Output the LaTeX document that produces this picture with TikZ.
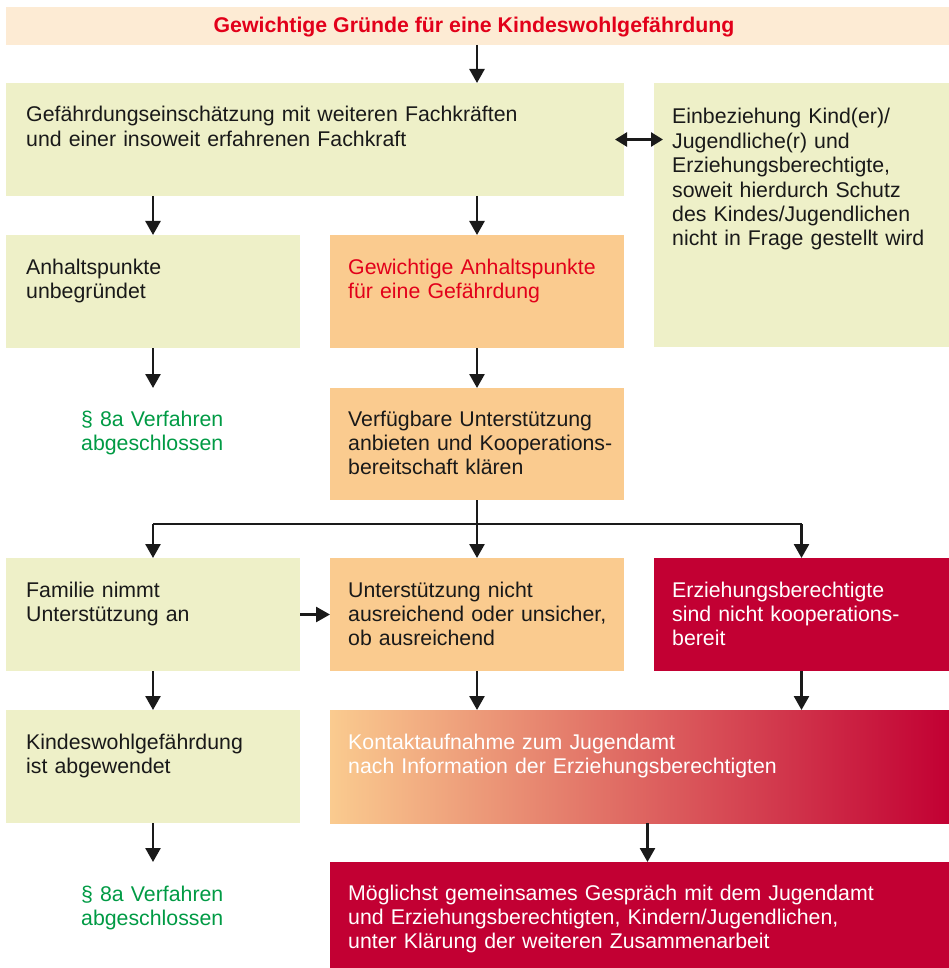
\documentclass[tikz,border=0pt]{standalone}
\usepackage{fontspec}
\setmainfont{Liberation Sans}
\usepackage{tikz}
\usetikzlibrary{calc,positioning,arrows.meta}
\definecolor{kwgreen}{HTML}{EEF0C8}
\definecolor{kworange}{HTML}{FACB8F}
\definecolor{kwmid}{HTML}{E38F6C}
\definecolor{kwcrimson}{HTML}{C20033}
\definecolor{kwpeach}{HTML}{FDEBD4}
\definecolor{kwred}{HTML}{E2001A}
\definecolor{kwtextgreen}{HTML}{009A44}
\definecolor{kwarrow}{HTML}{1A1A1A}

\begin{document}
\begin{tikzpicture}[
  x=1pt,y=-1pt,
  every node/.style={font=\fontsize{21.3}{24.4}\selectfont},
  box/.style={anchor=north west,inner sep=0pt,outer sep=0pt},
  greenbox/.style={box,fill=kwgreen},
  orangebox/.style={box,fill=kworange},
  redbox/.style={box,fill=kwcrimson},
  txt/.style={anchor=base west,inner sep=0pt,align=left,text width=600pt,text=black!90},
  whitetxt/.style={txt,text=white},
  donetxt/.style={txt,text=kwtextgreen},
  flow/.style={-{Triangle[width=15pt,length=14pt]},draw=kwarrow,line width=2.6pt},
  twoway/.style={{Triangle[width=14pt,length=12pt]}-{Triangle[width=14pt,length=12pt]},draw=kwarrow,line width=2.6pt},
  stem/.style={draw=kwarrow,line width=2.4pt},
]
\useasboundingbox (0,0) rectangle (949,968);

\node[box,fill=kwpeach,minimum width=943pt,minimum height=38pt] (gruende) at (6,7) {};
\node[font=\bfseries\fontsize{21.3}{24}\selectfont,text=kwred,anchor=base,inner sep=0pt] (gruendetxt) at (474,33) {Gewichtige Gründe für eine Kindeswohlgefährdung};

% first row
\node[greenbox,minimum width=618pt,minimum height=113pt] (einschaetzung) at (6,83) {};
\node[txt] (einschaetzungtxt) at (26,122)
  {Gefährdungseinschätzung mit weiteren Fachkräften\\und einer insoweit erfahrenen Fachkraft};
\node[greenbox,minimum width=295pt,minimum height=264pt] (einbeziehung) at (654,83) {};
\node[txt] (einbeziehungtxt) at (672,124)
  {Einbeziehung Kind(er)/\\Jugendliche(r) und\\Erziehungsberechtigte,\\soweit hierdurch Schutz\\des Kindes/Jugendlichen\\nicht in Frage gestellt wird};

% second row
\node[greenbox,minimum width=294pt,minimum height=113pt] (unbegruendet) at (6,235) {};
\node[txt] (unbegruendettxt) at (26,274) {Anhaltspunkte\\unbegründet};
\node[orangebox,minimum width=294pt,minimum height=113pt] (gewichtig) at (330,235) {};
\node[txt,text=kwred] (gewichtigtxt) at (348,274) {Gewichtige Anhaltspunkte\\für eine Gefährdung};

% third row
\node[donetxt] (abgeschlossen) at (81,426) {§ 8a Verfahren\\abgeschlossen};
\node[orangebox,minimum width=294pt,minimum height=112pt] (verfuegbar) at (330,388) {};
\node[txt] (verfuegbartxt) at (348,426)
  {Verfügbare Unterstützung\\anbieten und Kooperations-\\bereitschaft klären};

% fourth row
\node[greenbox,minimum width=294pt,minimum height=113pt] (familie) at (6,558) {};
\node[txt] (familietxt) at (26,597) {Familie nimmt\\Unterstützung an};
\node[orangebox,minimum width=294pt,minimum height=113pt] (unzureichend) at (330,558) {};
\node[txt] (unzureichendtxt) at (348,597)
  {Unterstützung nicht\\ausreichend oder unsicher,\\ob ausreichend};
\node[redbox,minimum width=295pt,minimum height=113pt] (nichtkoop) at (654,558) {};
\node[whitetxt] (nichtkooptxt) at (672,597)
  {Erziehungsberechtigte\\sind nicht kooperations-\\bereit};

% fifth row
\node[greenbox,minimum width=294pt,minimum height=113pt] (abgewendet) at (6,710) {};
\node[txt] (abgewendettxt) at (26,749) {Kindeswohlgefährdung\\ist abgewendet};
\node[box,minimum width=619pt,minimum height=113pt,shading=axis,
  left color=kworange,middle color=kwmid,right color=kwcrimson] (kontakt) at (330,710) {};
\node[whitetxt] (kontakttxt) at (348,749)
  {Kontaktaufnahme zum Jugendamt\\nach Information der Erziehungsberechtigten};

% last row
\node[donetxt] (abgeschlossenb) at (81,901) {§ 8a Verfahren\\abgeschlossen};
\node[redbox,minimum width=619pt,minimum height=106pt] (gespraech) at (330,862) {};
\node[whitetxt] (gespraechtxt) at (348,900)
  {Möglichst gemeinsames Gespräch mit dem Jugendamt\\und Erziehungsberechtigten, Kindern/Jugendlichen,\\unter Klärung der weiteren Zusammenarbeit};

% connectors
\draw[flow] (gruende.south -| gewichtig) -- (einschaetzung.north -| gewichtig);
\draw[twoway] ([xshift=-9pt]einschaetzung.east) -- ([xshift=9pt]einschaetzung.east -| einbeziehung.west);
\draw[flow] (einschaetzung.south -| unbegruendet) -- (unbegruendet.north);
\draw[flow] (einschaetzung.south -| gewichtig) -- (gewichtig.north);
\draw[flow] (unbegruendet.south) -- (unbegruendet.south |- verfuegbar.north);
\draw[flow] (gewichtig.south) -- (verfuegbar.north);

\coordinate (verzweig) at ($(verfuegbar.south)+(0,24)$);
\draw[stem] (verzweig -| familie) -- (verzweig -| nichtkoop);
\draw[flow] (verfuegbar.south) -- (unzureichend.north);
\draw[flow] (verzweig -| familie) -- (familie.north);
\draw[flow] (verzweig -| nichtkoop) -- (nichtkoop.north);
\draw[flow] (familie.east) -- (unzureichend.west);

\draw[flow] (familie.south) -- (abgewendet.north);
\draw[flow] (unzureichend.south) -- (unzureichend.south |- kontakt.north);
\draw[flow] (nichtkoop.south) -- (nichtkoop.south |- kontakt.north);
\draw[flow] (abgewendet.south) -- (abgewendet.south |- gespraech.north);
\draw[flow] ([xshift=8pt]kontakt.south) -- ([xshift=8pt]kontakt.south |- gespraech.north);
\end{tikzpicture}
\end{document}
